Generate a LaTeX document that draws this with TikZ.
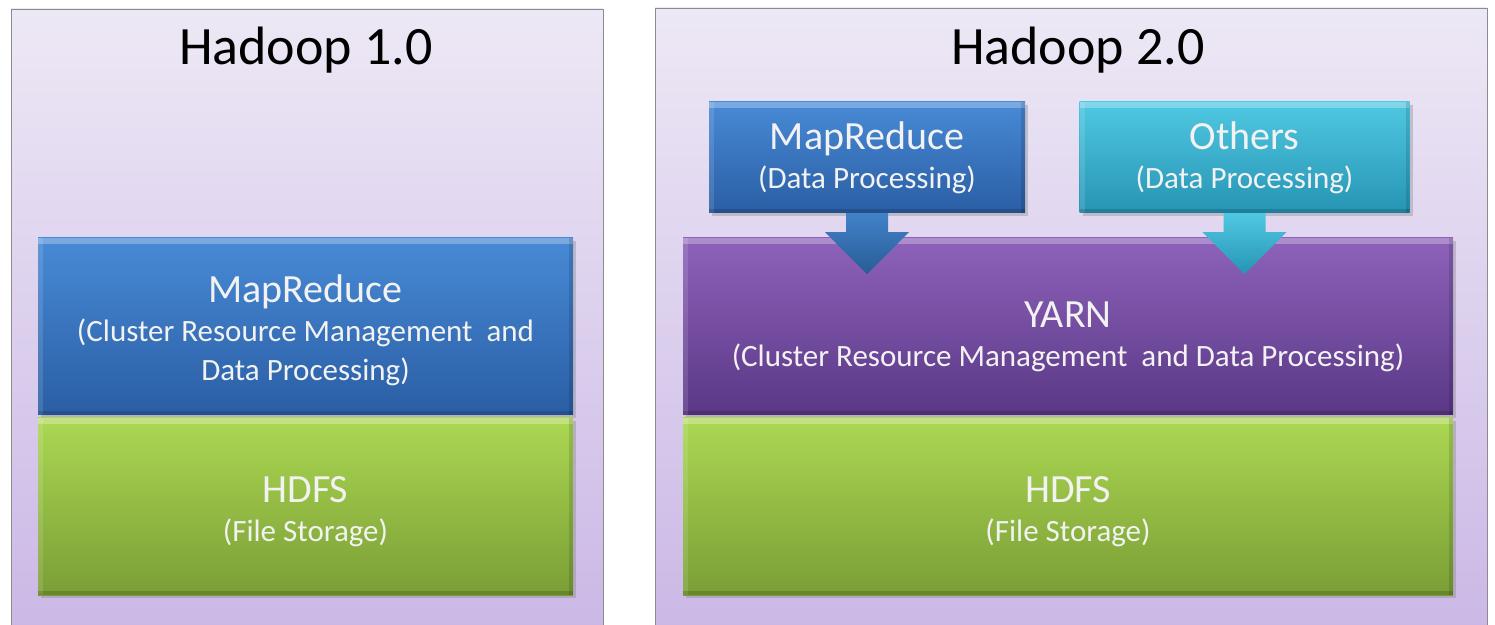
\documentclass[tikz,border=0pt]{standalone}
\usepackage{fontspec}
\setmainfont{Carlito}
\usetikzlibrary{shadows,calc}

\definecolor{panelTop}{RGB}{237,232,245}
\definecolor{panelBot}{RGB}{203,184,230}
\definecolor{mrTop}{RGB}{72,138,214}
\definecolor{mrBot}{RGB}{42,94,164}
\definecolor{hdTop}{RGB}{172,216,82}
\definecolor{hdBot}{RGB}{122,158,54}
\definecolor{ynTop}{RGB}{142,98,186}
\definecolor{ynBot}{RGB}{90,56,134}
\definecolor{otTop}{RGB}{80,200,226}
\definecolor{otBot}{RGB}{38,148,180}
\definecolor{arTop}{RGB}{66,130,200}
\definecolor{arBot}{RGB}{40,92,150}
\definecolor{boxText}{RGB}{242,242,242}

\tikzset{
  panel/.style={draw=black!45, line width=0.8pt, top color=panelTop, bottom color=panelBot},
  title/.style={anchor=base, font=\fontsize{54}{60}\selectfont},
  layer/.style={draw=none, inner sep=0pt,
    drop shadow={shadow xshift=3pt, shadow yshift=-3pt, opacity=0.35},
    path picture={
      \fill[white, opacity=0.28] (path picture bounding box.north west)
        rectangle ([yshift=-6pt]path picture bounding box.north east);
      \fill[white, opacity=0.12] (path picture bounding box.north west)
        rectangle ([xshift=5pt]path picture bounding box.south west);
      \fill[black, opacity=0.15] (path picture bounding box.south west)
        rectangle ([yshift=4pt]path picture bounding box.south east);
      \fill[black, opacity=0.12] (path picture bounding box.north east)
        rectangle ([xshift=-4pt]path picture bounding box.south east);
    }},
  boxtext/.style={text=boxText, align=center, inner sep=0pt,
    font=\fontsize{31}{39}\selectfont},
  mrfill/.style={top color=mrTop, bottom color=mrBot},
  hdfill/.style={top color=hdTop, bottom color=hdBot},
  ynfill/.style={top color=ynTop, bottom color=ynBot},
  otfill/.style={top color=otTop, bottom color=otBot},
}
\newcommand{\bigname}[1]{{\fontsize{40}{39}\selectfont #1}}

\begin{document}
\begin{tikzpicture}[line cap=round,line join=round,x=1pt,y=1pt]
  \useasboundingbox (0,0) rectangle (1495,624);

  % the two frames
  \draw[panel] (11,-5) rectangle (603,615);
  \draw[panel] (655,-5) rectangle (1487,616);

  \node[title] (titleA) at (306,559) {Hadoop 1.0};
  \node[title] (titleB) at (1078,559) {Hadoop 2.0};

  % Hadoop 1.0 stack
  \node[layer, mrfill, minimum width=535pt, minimum height=177pt] (mr1) at (305.5,297.5) {};
  \node[layer, hdfill, minimum width=535pt, minimum height=177pt] (hdfs1) at (305.5,117.5) {};
  \node[boxtext] (mr1t) at ([yshift=-4pt]mr1.center)
    {\bigname{MapReduce}\\(Cluster Resource Management\ \ and\\Data Processing)};
  \node[boxtext] (hdfs1t) at ([yshift=-5pt]hdfs1.center) {\bigname{HDFS}\\(File Storage)};

  % Hadoop 2.0 stack
  \node[layer, ynfill, minimum width=770pt, minimum height=177pt] (yarn) at (1068,297.5) {};
  \node[layer, hdfill, minimum width=770pt, minimum height=177pt] (hdfs2) at (1068,117.5) {};
  \node[layer, mrfill, minimum width=316pt, minimum height=111pt] (mr2) at (867,466.5) {};
  \node[layer, otfill, minimum width=330pt, minimum height=111pt] (oth) at (1244.5,466.5) {};
  \node[boxtext] (yarnt) at ([yshift=-10pt]yarn.center)
    {\bigname{YARN}\\(Cluster Resource Management\ \ and Data Processing)};
  \node[boxtext] (hdfs2t) at ([yshift=-5pt]hdfs2.center) {\bigname{HDFS}\\(File Storage)};
  \node[boxtext] (mr2t) at (mr2.center) {\bigname{MapReduce}\\(Data Processing)};
  \node[boxtext] (otht) at (oth.center) {\bigname{Others}\\(Data Processing)};

  \foreach \src/\tip/\ctop/\cbot in {mr2/tipA/arTop/arBot, oth/tipB/otTop/otBot}{
    \coordinate (\tip) at ($(\src.south)+(0,-61)$);
    \shade[top color=\ctop, bottom color=\cbot]
      ($(\src.south)+(-21,0)$) -- ++(0,-19) -- ++(-21,0) -- (\tip)
      -- ($(\src.south)+(42,-19)$) -- ++(-21,0) -- ($(\src.south)+(21,0)$) -- cycle;
  }
\end{tikzpicture}
\end{document}
